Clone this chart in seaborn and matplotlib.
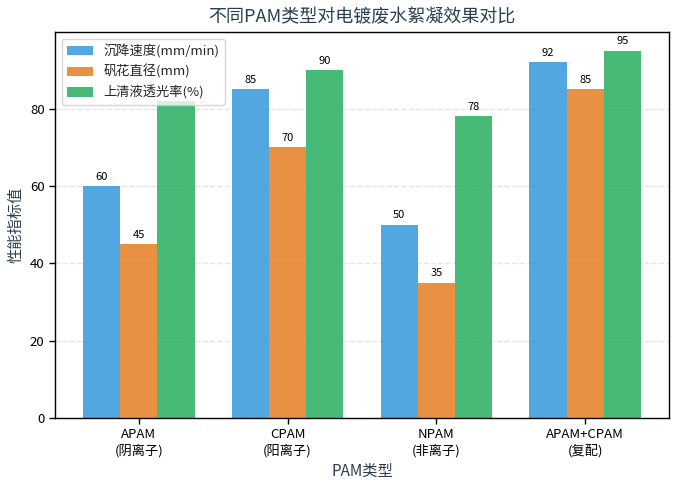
import matplotlib
matplotlib.use("Agg")
import matplotlib.pyplot as plt
import seaborn as sns
import pandas as pd

categories = ["APAM\n(阴离子)", "CPAM\n(阳离子)", "NPAM\n(非离子)", "APAM+CPAM\n(复配)"]
series_names = ["沉降速度(mm/min)", "矾花直径(mm)", "上清液透光率(%)"]
settling = [60, 85, 50, 92]
floc_size = [45, 70, 35, 85]
transmittance = [82, 90, 78, 95]
colors = ["#3498db", "#e67e22", "#27ae60"]

sns.set_theme(style="white")
plt.rcParams['font.family'] = ['Noto Sans CJK SC', 'DejaVu Sans']
plt.rcParams['axes.unicode_minus'] = False

rows = []
for name, vals in zip(series_names, [settling, floc_size, transmittance]):
    for c, v in zip(categories, vals):
        rows.append({"cat": c, "series": name, "value": v})
df = pd.DataFrame(rows)

fig, ax = plt.subplots(figsize=(6.84, 4.87), dpi=100)
sns.barplot(data=df, x="cat", y="value", hue="series", palette=colors,
            alpha=0.85, width=0.75, ax=ax, errorbar=None, saturation=1,
            edgecolor="none", linewidth=0)

for cont in ax.containers:
    ax.bar_label(cont, padding=3, fontsize=8, color="black")

ax.set_xlim(-0.5625, 3.5625)
ax.set_ylim(0, 99.75)
ax.set_yticks([0, 20, 40, 60, 80])
ax.yaxis.grid(True, linestyle="--", alpha=0.3, color="#aaaaaa")
ax.set_axisbelow(True)
for s in ax.spines.values():
    s.set_color("black")
    s.set_linewidth(1.0)
ax.tick_params(axis="both", which="both", length=4, width=1, colors="black", labelsize=9.5, bottom=True, left=True)

ax.set_title("不同PAM类型对电镀废水絮凝效果对比", fontsize=13, color="#2c3e50", pad=7)
ax.set_xlabel("PAM类型", fontsize=11, color="#2c3e50")
ax.set_ylabel("性能指标值", fontsize=11, color="#2c3e50")

leg = ax.legend(loc="upper left", fontsize=9.5, frameon=True, title=None)
leg.get_frame().set_edgecolor("#cccccc")

fig.subplots_adjust(left=0.0804, right=0.978, top=0.934, bottom=0.1417)
fig.savefig("out.png", dpi=100)
